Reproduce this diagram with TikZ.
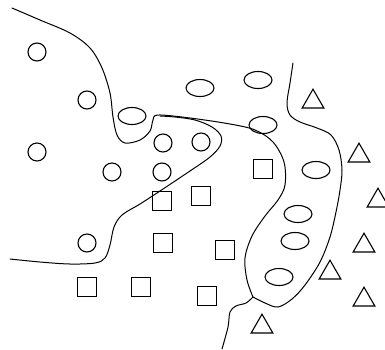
\documentclass[tikz,border=0pt]{standalone}
\usetikzlibrary{shapes.geometric}
\begin{document}
\begin{tikzpicture}[x=1pt,y=-1pt,
  shp/.style={draw=black,line width=1.1pt,inner sep=0pt},
  circ/.style={shp,circle,minimum size=18pt},
  ell/.style={shp,ellipse,minimum width=28pt,minimum height=17pt},
  sq/.style={shp,rectangle,minimum size=19pt},
  tri/.style={shp,regular polygon,regular polygon sides=3,minimum size=25pt},
  bound/.style={draw=black,line width=1pt,line cap=round,line join=round}]
\useasboundingbox (0,0) rectangle (385,349);
\clip (0,0) rectangle (385,349);
% circles
\node[circ] (c1) at (37,52) {};
\node[circ] (c2) at (87,100) {};
\node[circ] (c3) at (37,152) {};
\node[circ] (c4) at (112,172) {};
\node[circ] (c5) at (162,172) {};
\node[circ] (c6) at (163,143) {};
\node[circ] (c7) at (201,142) {};
\node[circ] (c8) at (87,243) {};
% ellipses
\node[ell] (e1) at (132,116) {};
\node[ell] (e2) at (200,88) {};
\node[ell] (e3) at (258,80) {};
\node[ell] (e4) at (263,125) {};
\node[ell] (e5) at (316,170) {};
\node[ell] (e6) at (298,214) {};
\node[ell] (e7) at (295,241) {};
\node[ell] (e8) at (279,277) {};
% squares
\node[sq] (s1) at (263,169) {};
\node[sq] (s2) at (162,201) {};
\node[sq] (s3) at (201,196) {};
\node[sq] (s4) at (163,243) {};
\node[sq] (s5) at (225,250) {};
\node[sq] (s6) at (87,287) {};
\node[sq] (s7) at (141,287) {};
\node[sq] (s8) at (207,296) {};
% triangles
\node[tri] (t1) at (313,101.7) {};
\node[tri] (t2) at (359,155.7) {};
\node[tri] (t3) at (378,200.7) {};
\node[tri] (t4) at (364,245.7) {};
\node[tri] (t5) at (330,272.7) {};
\node[tri] (t6) at (364,299.7) {};
\node[tri] (t7) at (262,326.7) {};
% boundaries
\draw[bound] plot[smooth,tension=0.55] coordinates {(12,8) (40,20) (70,33) (90,48) (102,68) (110,93) (113,117) (117,135) (125,143) (140,140) (150,131) (153,120) (158,115) (190,118) (230,124) (255,130) (273,142) (284,162) (285,185) (278,200) (265,216) (252,236) (245,258) (247,280) (253,297)};
\draw[bound] plot[smooth,tension=0.55] coordinates {(253,297) (246,303) (236,306) (230,312) (228,327) (222,349)};
\draw[bound] plot[smooth,tension=0.55] coordinates {(293,63) (290,83) (287,103) (290,115) (300,122) (317,128) (331,135) (339,150) (342,170) (340,190) (336,212) (330,237) (320,262) (305,285) (292,299) (278,307) (265,303) (253,297)};
\draw[bound] plot[smooth,tension=0.55] coordinates {(10,259) (40,262) (70,264) (95,263) (105,258) (110,245) (114,227) (122,215) (140,204) (160,191) (190,171) (210,157) (220,146) (221,136) (212,127) (195,120) (175,117) (160,116)};
\end{tikzpicture}
\end{document}
